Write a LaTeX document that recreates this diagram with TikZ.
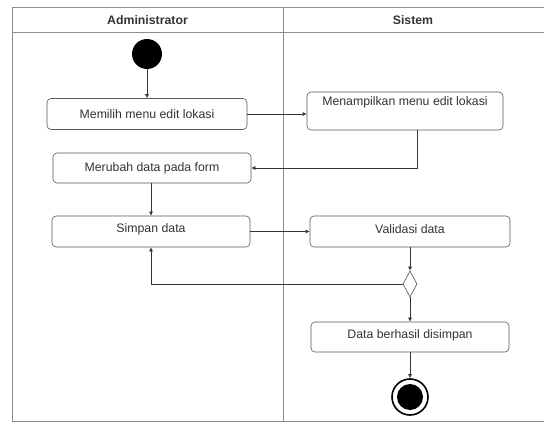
\documentclass[tikz,border=0pt]{standalone}
\usepackage{fontspec}
\setmainfont{Liberation Sans}
\usetikzlibrary{shapes.geometric,arrows.meta,calc}
\begin{document}
\begin{tikzpicture}[x=1pt,y=-1pt,
  every node/.style={font=\fontsize{12.3}{14}\selectfont, text=black!80},
  lane/.style={draw=black!45, line width=0.9pt},
  act/.style={draw=black!65, line width=0.6pt, rounded corners=4pt, inner sep=0pt},
  flow/.style={draw=black!80, line width=0.6pt, -{Latex[length=4pt,width=4pt]}},
  hdr/.style={font=\fontsize{12.3}{14}\selectfont\bfseries}]
  \useasboundingbox (0,0) rectangle (544,423);
  % swimlane frame (open to the right edge)
  \draw[lane] (544,7) -- (12,7) -- (12,421) -- (544,421);
  \draw[lane] (12,32.5) -- (544,32.5);
  \draw[lane] (283,7) -- (283,421);
  \node[hdr] (h1) at (147.5,20) {Administrator};
  \node[hdr] (h2) at (413,20) {Sistem};
  % nodes
  \node[circle, fill=black, minimum size=30pt, inner sep=0pt] (start) at (147,54) {};
  \node[act, minimum width=200pt, minimum height=31pt] (pilih) at (147,114) {Memilih menu edit lokasi};
  \node[act, minimum width=196pt, minimum height=38pt] (tampil) at (405,111) {};
  \node (tampilT) at ($(tampil.north)+(0,11)$) {Menampilkan menu edit lokasi};
  \node[act, minimum width=198pt, minimum height=30pt] (ubah) at (152,168) {Merubah data pada form};
  \node[act, minimum width=198pt, minimum height=31pt] (simpan) at (151,231.5) {};
  \node (simpanT) at ($(simpan)+(0,-2.5)$) {Simpan data};
  \node[act, minimum width=200pt, minimum height=31pt] (valid) at (410,231.5) {};
  \node (validT) at ($(valid)+(0,-2.5)$) {Validasi data};
  \node[diamond, draw=black!70, line width=0.6pt, minimum width=14pt, minimum height=26pt, inner sep=0pt, aspect=0.5] (dec) at (410,284) {};
  \node[act, minimum width=198pt, minimum height=30pt] (ok) at (410,337) {};
  \node (okT) at ($(ok)+(0,-1.5)$) {Data berhasil disimpan};
  \node[circle, draw=black, line width=1.6pt, minimum size=36pt, inner sep=0pt] (end) at (410,397) {};
  \node[circle, fill=black, minimum size=26pt, inner sep=0pt] (endin) at (end) {};
  % flows
  \draw[flow] (start) -- (pilih);
  \draw[flow] (pilih.east) -- (pilih.east -| tampil.west);
  \draw[flow] ($(tampil.south)+(12,0)$) |- (ubah.east);
  \draw[flow] (ubah.south -| simpan.north) -- (simpan.north);
  \draw[flow] (simpan.east) -- (valid.west);
  \draw[flow] (valid.south) -- (dec.north);
  \draw[flow] (dec.west) -| (simpan.south);
  \draw[flow] (dec.south) -- (ok.north);
  \draw[flow] (ok.south) -- (end.north);
\end{tikzpicture}
\end{document}
